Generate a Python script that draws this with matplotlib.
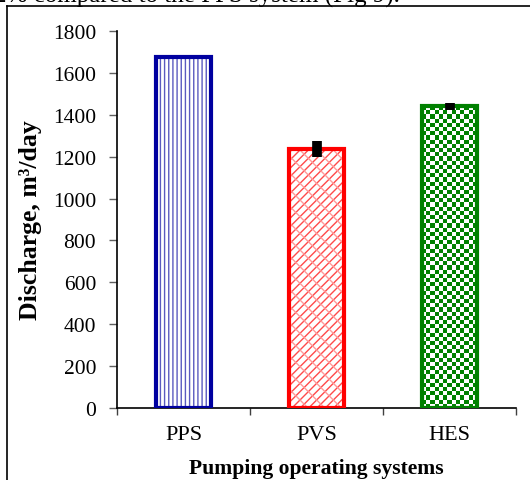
import numpy as np
import matplotlib
matplotlib.use('Agg')
import matplotlib.pyplot as plt
from matplotlib.colors import ListedColormap
from matplotlib.lines import Line2D

# data
systems = ['PPS', 'PVS', 'HES']
discharge = [1675, 1238, 1440]
discharge_err = [0, 38, 16]
yticks = [0, 200, 400, 600, 800, 1000, 1200, 1400, 1600, 1800]

edge_cols = ['#0000A0', '#FF0000', '#008000']
hatch_cols = ['#5a5ac0', '#FF4a4a', '#008000']

plt.rcParams['font.family'] = ['Liberation Serif', 'DejaVu Serif']
plt.rcParams['hatch.linewidth'] = 1.0

fig = plt.figure(figsize=(5.30, 4.81), dpi=100)
ax = fig.add_axes([0.2208, 0.1497, 0.7528, 0.7838])

x = np.arange(len(systems))
w = 0.41

# hatched fills
ax.bar(x[0], discharge[0], w, color='white', edgecolor=hatch_cols[0], hatch='||||', lw=0, zorder=1)
ax.bar(x[1], discharge[1], w, color='white', edgecolor=hatch_cols[1], hatch='////', lw=0, zorder=1)
ax.bar(x[1], discharge[1], w, color='none', edgecolor='#FF9a9a', hatch='\\\\', lw=0, zorder=1)
hes = ax.bar(x[2], discharge[2], w, color='white', lw=0, zorder=1)[0]

ax.set_xlim(-0.5, 2.5)
ax.set_ylim(0, 1800)

# checkerboard for HES, clipped to its bar
x0, y0, bw, bh = hes.get_x(), hes.get_y(), hes.get_width(), hes.get_height()
p0 = ax.transData.transform((x0, y0))
p1 = ax.transData.transform((x0 + bw, y0 + bh))
ncol = 13
cell = (p1[0] - p0[0]) / ncol
nrow = int(round((p1[1] - p0[1]) / cell))
board = np.indices((nrow, ncol)).sum(axis=0) % 2
im = ax.imshow(board, extent=(x0, x0 + bw, y0, y0 + bh), cmap=ListedColormap(['white', '#008000']),
               interpolation='nearest', aspect='auto', origin='lower', zorder=1.5)
im.set_clip_path(hes)

# outlines
ax.bar(x, discharge, w, color='none', edgecolor=edge_cols, lw=3, zorder=3)
ax.errorbar(x, discharge, yerr=discharge_err, fmt='none', ecolor='black', elinewidth=7, capsize=0, zorder=4)

ax.set_xlim(-0.5, 2.5)
ax.set_ylim(0, 1800)
ax.set_yticks(yticks)
ax.set_xticks(x)
ax.set_xticklabels(systems, fontsize=16)
ax.set_xticks([-0.5, 0.5, 1.5, 2.5], minor=True)
ax.tick_params(axis='x', which='major', length=0, pad=12)
ax.tick_params(axis='x', which='minor', length=5, width=1, color='#404040', direction='out')
ax.tick_params(axis='y', length=6, width=1, color='#606060', direction='out', labelsize=15.5, pad=9)
for s in ['top', 'right']:
    ax.spines[s].set_visible(False)
for s in ['left', 'bottom']:
    ax.spines[s].set_linewidth(1.2)

ax.set_ylabel('Discharge, m³/day', fontsize=18.5, fontweight='bold')
ax.yaxis.set_label_coords(-0.188, 0.5)
ax.set_xlabel('Pumping operating systems', fontsize=15.6, fontweight='bold')
ax.xaxis.set_label_coords(0.5, -0.133)

# page frame and caption line cut by the crop
fig.add_artist(Line2D([7/530, 7/530], [-0.1, 1 - 7/481], color='black', lw=1.2, transform=fig.transFigure))
fig.add_artist(Line2D([7/530, 1.1], [1 - 7/481, 1 - 7/481], color='black', lw=1.2, transform=fig.transFigure))
fig.text(400/530, 1 - 3/481, '2% compared to the PPS system (Fig 9).', fontsize=18, va='baseline', ha='right')

fig.savefig('out.png', dpi=100)
